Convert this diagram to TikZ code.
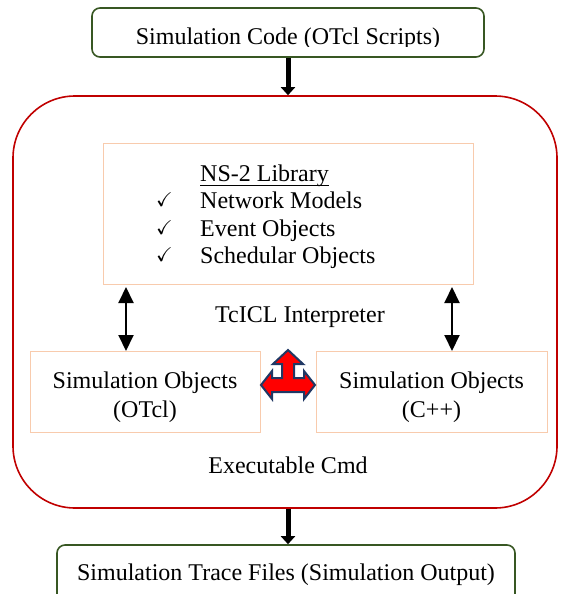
\documentclass[tikz,border=0pt]{standalone}
\usepackage{amssymb}
\usepackage{fontspec}
\setmainfont{Liberation Serif}
\usetikzlibrary{arrows.meta}
\definecolor{boxgreen}{RGB}{56,87,35}
\definecolor{boxred}{RGB}{192,0,0}
\definecolor{peach}{RGB}{248,203,173}
\definecolor{navy}{RGB}{32,56,100}
\definecolor{tred}{RGB}{255,0,0}
\tikzset{
  greenbox/.style={draw=boxgreen,line width=1.6pt,rounded corners=8pt,minimum width=#1,inner sep=0pt},
  peachbox/.style={draw=peach,line width=0.9pt,inner sep=0pt},
  txt/.style={font=\fontsize{24}{29}\selectfont,inner sep=0pt,anchor=base},
  chk/.style={font=\fontsize{20}{22}\selectfont,inner sep=0pt,anchor=base west},
  bigarrow/.style={line width=5pt,-{Triangle[width=14pt,length=8pt]}},
  dblarrow/.style={line width=2pt,{Triangle[width=15pt,length=16pt]}-{Triangle[width=15pt,length=16pt]}}
}
\begin{document}
\begin{tikzpicture}[x=1pt,y=-1pt]
\useasboundingbox (0,0) rectangle (560,594);
\clip (0,0) rectangle (560,594);
% boxes
\node[greenbox=392pt,minimum height=49pt] (top) at (288,32.5) {};
\begin{scope}
\clip (92,8) rectangle (484,47);
\node[txt] (toptxt) at (288,45) {Simulation Code (OTcl Scripts)};
\end{scope}
\node[draw=boxred,line width=1.6pt,rounded corners=62pt,minimum width=544pt,minimum height=412pt,inner sep=0pt] (red) at (285,302) {};
\node[peachbox,minimum width=370pt,minimum height=141pt] (ns) at (288,213.5) {};
\node[peachbox,minimum width=230pt,minimum height=81pt] (lsim) at (145,391.5) {};
\node[peachbox,minimum width=231pt,minimum height=81pt] (rsim) at (431.5,391.5) {};
\node[greenbox=458pt,minimum height=75pt] (bot) at (286,582.5) {};
% texts
\node[txt,anchor=base west] (nst) at (200,181) {NS-2 Library};
\draw[line width=1pt] ([yshift=-4pt]nst.base west) -- ([yshift=-4pt]nst.base east);
\node[txt,anchor=base west] (l1) at (200,208) {Network Models};
\node[txt,anchor=base west] (l2) at (200,236) {Event Objects};
\node[txt,anchor=base west] (l3) at (200,263) {Schedular Objects};
\node[chk] (c1) at (156,206) {$\checkmark$};
\node[chk] (c2) at (156,234) {$\checkmark$};
\node[chk] (c3) at (156,261) {$\checkmark$};
\node[txt] (tcl) at (300,322) {TcICL Interpreter};
\node[txt] (lt1) at (145,388) {Simulation Objects};
\node[txt] (lt2) at (145,417) {(OTcl)};
\node[txt] (rt1) at (431.5,388) {Simulation Objects};
\node[txt] (rt2) at (431.5,417) {(C++)};
\node[txt] (exe) at (288,473) {Executable Cmd};
\node[txt] (bott) at (286,580) {Simulation Trace Files (Simulation Output)};
% connectors
\draw[bigarrow] (top.south) -- (top.south |- red.north);
\draw[bigarrow] (top.south |- red.south) -- (top.south |- bot.north);
\coordinate (la) at (126,287);
\coordinate (lb) at (126,351);
\coordinate (ra) at (452,287);
\coordinate (rb) at (452,351);
\draw[dblarrow] (la) -- (lb);
\draw[dblarrow] (ra) -- (rb);
% red T arrow
\draw[fill=tred,draw=navy,line width=2pt,line join=miter]
  (288,350) -- (303,364) -- (294,364) -- (294,378) -- (304,378) -- (304,371)
  -- (315,385) -- (304,399) -- (304,392) -- (272,392) -- (272,399) -- (261,385)
  -- (272,371) -- (272,378) -- (282,378) -- (282,364) -- (273,364) -- cycle;
\end{tikzpicture}
\end{document}
